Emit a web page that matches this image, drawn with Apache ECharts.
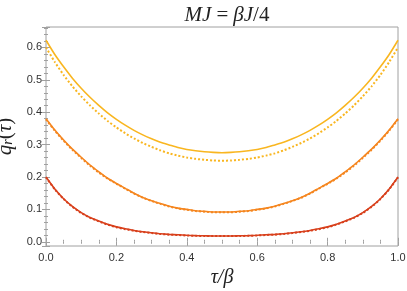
<!DOCTYPE html>
<html><head><meta charset="utf-8">
<script src="https://cdn.jsdelivr.net/npm/echarts@6/dist/echarts.min.js"></script>
<style>html,body{margin:0;padding:0;background:#fff}#c{width:407px;height:291px}</style>
</head><body><div id="c"></div>
<script>
var tau = [0,0.025,0.05,0.075,0.1,0.125,0.15,0.175,0.2,0.225,0.25,0.275,0.3,0.325,0.35,0.375,0.4,0.425,0.45,0.475,0.5,
           0.525,0.55,0.575,0.6,0.625,0.65,0.675,0.7,0.725,0.75,0.775,0.8,0.825,0.85,0.875,0.9,0.925,0.95,0.975,1];
var yellowSolid = [0.622,0.578,0.540,0.505,0.474,0.446,0.421,0.398,0.378,0.360,0.344,0.330,0.318,0.307,0.299,0.291,0.285,0.281,0.278,0.276,0.275,
                   0.276,0.278,0.281,0.285,0.291,0.299,0.307,0.318,0.330,0.344,0.360,0.378,0.398,0.421,0.446,0.474,0.505,0.540,0.578,0.622];
var yellowDotted = [0.600,0.555,0.515,0.480,0.449,0.421,0.396,0.373,0.353,0.335,0.319,0.305,0.293,0.282,0.273,0.266,0.260,0.256,0.253,0.251,0.250,
                    0.251,0.253,0.256,0.260,0.266,0.273,0.282,0.293,0.305,0.319,0.335,0.353,0.373,0.396,0.421,0.449,0.480,0.515,0.555,0.600];
var orangeSolid = [0.380,0.345,0.314,0.286,0.261,0.237,0.216,0.196,0.180,0.165,0.150,0.137,0.127,0.118,0.110,0.104,0.100,0.096,0.094,0.092,0.092,
                   0.092,0.094,0.096,0.100,0.104,0.110,0.118,0.127,0.137,0.150,0.165,0.180,0.196,0.216,0.237,0.261,0.286,0.314,0.345,0.380];
var orangeDotted = [0.378,0.343,0.312,0.284,0.259,0.235,0.214,0.195,0.179,0.164,0.149,0.136,0.126,0.117,0.109,0.103,0.099,0.095,0.093,0.091,0.091,
                    0.091,0.093,0.095,0.099,0.103,0.109,0.117,0.126,0.136,0.149,0.164,0.179,0.195,0.214,0.235,0.259,0.284,0.312,0.343,0.378];
var redSolid = [0.200,0.163,0.133,0.109,0.090,0.075,0.064,0.054,0.046,0.040,0.035,0.031,0.028,0.025,0.023,0.0215,0.020,0.019,0.0185,0.018,0.018,
                0.018,0.0185,0.019,0.020,0.0215,0.023,0.025,0.028,0.031,0.035,0.040,0.046,0.054,0.064,0.075,0.090,0.109,0.133,0.163,0.200];
var redDotted = [0.199,0.162,0.132,0.108,0.089,0.074,0.063,0.053,0.045,0.039,0.034,0.030,0.027,0.024,0.022,0.021,0.0195,0.0185,0.018,0.0175,0.0175,
                 0.0175,0.018,0.0185,0.0195,0.021,0.022,0.024,0.027,0.030,0.034,0.039,0.045,0.053,0.063,0.074,0.089,0.108,0.132,0.162,0.199];

function pairs(ys){ return tau.map(function(t,i){return [t, ys[i]];}); }
var YMIN = -0.013, YMAX = 0.663;
var frameColor = '#a0a0a0';
var serif = 'Liberation Serif, Times New Roman, serif';
var tickLbl = {color:'#333', fontFamily:'Liberation Sans, Arial, sans-serif', fontSize:11};
function line(ys, color, dotted){
  return {type:'line', data:pairs(ys), smooth:0.2, showSymbol:false, symbol:'none',
    lineStyle:{color:color, width: dotted?2:1.6, type: dotted?[2,2]:'solid'}, z: dotted?3:2, animation:false};
}
var chart = echarts.init(document.getElementById('c'), null, {renderer:'canvas'});
chart.setOption({
  animation:false,
  title:{text:'{i|MJ} {u|=} {i|βJ}{u|/4}', left:222, top:0, textAlign:'center',
    textStyle:{fontWeight:'normal', rich:{i:{fontFamily:serif, fontStyle:'italic', fontWeight:'normal', fontSize:21, color:'#222'},
                     u:{fontFamily:serif, fontWeight:'normal', fontSize:21, color:'#222'}}}},
  grid:{left:46, right:9, top:27, bottom:45, show:true, borderColor:frameColor, borderWidth:1, containLabel:false, outerBoundsMode:'none'},
  xAxis:[{type:'value', min:0, max:1, interval:0.2, position:'bottom',
    axisLine:{show:false}, splitLine:{show:false},
    axisTick:{inside:true, length:4, lineStyle:{color:frameColor}},
    minorTick:{show:true, splitNumber:4, length:2, lineStyle:{color:frameColor}},
    axisLabel:Object.assign({formatter:function(v){return v.toFixed(1);}, margin:6}, tickLbl),
    name:'τ/β', nameLocation:'middle', nameGap:17,
    nameTextStyle:{fontFamily:serif, fontStyle:'italic', fontSize:20, color:'#222'}},
   {type:'value', min:0, max:1, interval:0.2, position:'top',
    axisLine:{show:false}, splitLine:{show:false},
    axisTick:{inside:true, length:4, lineStyle:{color:frameColor}},
    minorTick:{show:true, splitNumber:4, length:2, lineStyle:{color:frameColor}},
    axisLabel:{show:false}}],
  yAxis:[{type:'value', min:YMIN, max:YMAX, splitNumber:7, position:'left',
    axisLine:{show:false}, splitLine:{show:false},
    axisTick:{inside:true, length:4, lineStyle:{color:frameColor}},
    minorTick:{show:true, splitNumber:5, length:2, lineStyle:{color:frameColor}},
    axisLabel:Object.assign({formatter:function(v){return v.toFixed(1);}, showMinLabel:false, showMaxLabel:false, margin:4}, tickLbl),
    name:'{q|q}{r|r}{p|(}{q|τ}{p|)}', nameLocation:'middle', nameGap:20, nameRotate:90,
    nameTextStyle:{rich:{
      q:{fontFamily:serif, fontStyle:'italic', fontSize:21, color:'#222', verticalAlign:'middle'},
      r:{fontFamily:serif, fontStyle:'italic', fontSize:14, color:'#222', verticalAlign:'bottom', lineHeight:14, padding:[7,0,0,0]},
      p:{fontFamily:serif, fontSize:21, color:'#222', verticalAlign:'middle'}}}},
   {type:'value', min:YMIN, max:YMAX, splitNumber:7, position:'right',
    axisLine:{show:false}, splitLine:{show:false},
    axisTick:{inside:true, length:4, lineStyle:{color:frameColor}},
    minorTick:{show:true, splitNumber:5, length:2, lineStyle:{color:frameColor}},
    axisLabel:{show:false}}],
  series:[
    line(yellowSolid,'#F9B620',false),
    line(yellowDotted,'#F9B620',true),
    line(orangeSolid,'#F5861F',false),
    line(orangeDotted,'#F5861F',true),
    line(redSolid,'#D8401C',false),
    line(redDotted,'#D8401C',true)
  ]
});
</script></body></html>
